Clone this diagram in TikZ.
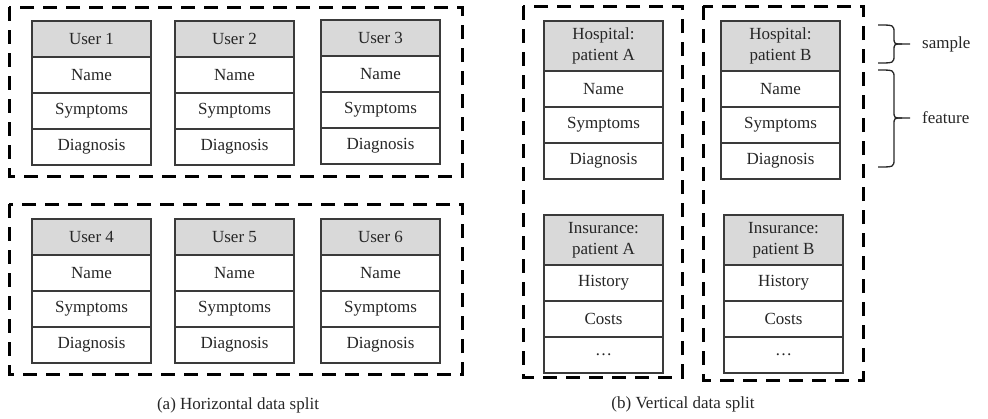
\documentclass[tikz,border=0pt]{standalone}
\usepackage{fontspec}
\setmainfont{Liberation Serif}
\definecolor{txt}{HTML}{262626}
\definecolor{cellline}{HTML}{3A3A3A}
\definecolor{hfill}{HTML}{D9D9D9}
\tikzset{
  cell/.style={draw=cellline, line width=1.5pt, fill=white, minimum width=119pt,
    minimum height=36pt, inner sep=0pt, outer sep=0pt, text=txt,
    font=\fontsize{17}{21}\selectfont, align=center},
  hcell/.style={cell, fill=hfill},
  groupbox/.style={draw=black, line width=3pt, dash pattern=on 14pt off 9pt},
  bracepath/.style={draw=txt, line width=1.3pt},
  lbl/.style={text=txt, font=\fontsize{17}{21}\selectfont, inner sep=0pt},
}
\newcommand\usertab[4]{%
  \node[hcell, anchor=north west] (#1h) at (#2,#3) {#4};
  \node[cell, anchor=north] (#1a) at (#1h.south) {Name};
  \node[cell, anchor=north] (#1b) at (#1a.south) {Symptoms};
  \node[cell, anchor=north] (#1c) at (#1b.south) {Diagnosis};
}
\newcommand\hosptab[4]{%
  \node[hcell, minimum height=50pt, anchor=north west] (#1h) at (#2,#3) {#4};
  \node[cell, anchor=north] (#1a) at (#1h.south) {Name};
  \node[cell, anchor=north] (#1b) at (#1a.south) {Symptoms};
  \node[cell, anchor=north] (#1c) at (#1b.south) {Diagnosis};
}
\newcommand\instab[4]{%
  \node[hcell, minimum height=50pt, anchor=north west] (#1h) at (#2,#3) {#4};
  \node[cell, anchor=north] (#1a) at (#1h.south) {History};
  \node[cell, anchor=north] (#1b) at (#1a.south) {Costs};
  \node[cell, anchor=north] (#1c) at (#1b.south) {\dots};
}
\begin{document}
\begin{tikzpicture}[x=1pt,y=-1pt]
\useasboundingbox (0,0) rectangle (988,418);
% group boxes
\draw[groupbox] (9,7) rectangle (462,176);
\draw[groupbox] (9,204) rectangle (462,374);
\draw[groupbox] (523,6) rectangle (682,377);
\draw[groupbox] (703,6) rectangle (863,380);
% horizontal split tables
\usertab{ua}{32}{21}{User 1}
\usertab{ub}{175}{21}{User 2}
\usertab{uc}{321}{20}{User 3}
\usertab{ud}{32}{219}{User 4}
\usertab{ue}{175}{219}{User 5}
\usertab{uf}{321}{219}{User 6}
% vertical split tables
\hosptab{ha}{544}{21}{Hospital:\\patient A}
\hosptab{hb}{721}{21}{Hospital:\\patient B}
\instab{ia}{544}{215}{Insurance:\\patient A}
\instab{ib}{724}{215}{Insurance:\\patient B}
% braces
\draw[bracepath] (878,25) .. controls (894,25) .. (894,33) -- (894,37)
  .. controls (894,44) .. (902,44) -- (910,44);
\draw[bracepath] (902,44) .. controls (894,44) .. (894,51) -- (894,55)
  .. controls (894,63) .. (878,63);
\draw[bracepath] (878,70) .. controls (894,70) .. (894,78) -- (894,111)
  .. controls (894,118) .. (902,118) -- (910,118);
\draw[bracepath] (902,118) .. controls (894,118) .. (894,125) -- (894,159)
  .. controls (894,167) .. (878,167);
\node[lbl, anchor=west] (sample) at (922,44) {sample};
\node[lbl, anchor=west] (feature) at (922,118) {feature};
% captions
\node[lbl] (capa) at (238,405) {(a) Horizontal data split};
\node[lbl] (capb) at (683,404) {(b) Vertical data split};
\end{tikzpicture}
\end{document}
